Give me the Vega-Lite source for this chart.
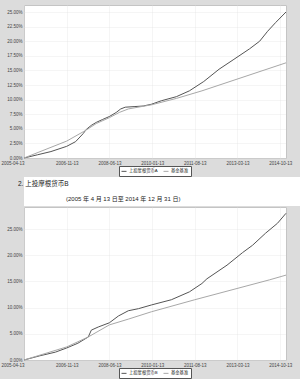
{
  "$schema": "https://vega.github.io/schema/vega-lite/v6.json",
  "background": "#dcdcdc",
  "padding": {"left": 0, "top": 4, "right": 0, "bottom": 0},
  "spacing": 0,
  "align": "none",
  "resolve": {"scale": {"color": "independent"}, "legend": {"color": "independent"}},
  "datasets": {
    "a": [
      {"date": "2005-04-13", "series": "上投摩根货币A", "value": 0},
      {"date": "2005-10-13", "series": "上投摩根货币A", "value": 0.55},
      {"date": "2006-04-13", "series": "上投摩根货币A", "value": 1.1},
      {"date": "2006-11-13", "series": "上投摩根货币A", "value": 2.0},
      {"date": "2007-03-13", "series": "上投摩根货币A", "value": 2.8},
      {"date": "2007-06-25", "series": "上投摩根货币A", "value": 4.2},
      {"date": "2007-08-05", "series": "上投摩根货币A", "value": 4.9},
      {"date": "2007-10-13", "series": "上投摩根货币A", "value": 5.6},
      {"date": "2007-12-18", "series": "上投摩根货币A", "value": 6.1},
      {"date": "2008-03-13", "series": "上投摩根货币A", "value": 6.6},
      {"date": "2008-06-12", "series": "上投摩根货币A", "value": 7.1},
      {"date": "2008-09-13", "series": "上投摩根货币A", "value": 7.8},
      {"date": "2008-11-13", "series": "上投摩根货币A", "value": 8.4},
      {"date": "2009-01-13", "series": "上投摩根货币A", "value": 8.7},
      {"date": "2009-05-13", "series": "上投摩根货币A", "value": 8.8},
      {"date": "2009-09-13", "series": "上投摩根货币A", "value": 8.9},
      {"date": "2010-01-02", "series": "上投摩根货币A", "value": 9.2},
      {"date": "2010-05-17", "series": "上投摩根货币A", "value": 9.8},
      {"date": "2010-12-07", "series": "上投摩根货币A", "value": 10.5},
      {"date": "2011-06-01", "series": "上投摩根货币A", "value": 11.5},
      {"date": "2011-12-13", "series": "上投摩根货币A", "value": 13.1},
      {"date": "2012-07-07", "series": "上投摩根货币A", "value": 15.2},
      {"date": "2013-01-13", "series": "上投摩根货币A", "value": 16.8},
      {"date": "2013-08-25", "series": "上投摩根货币A", "value": 18.7},
      {"date": "2014-01-08", "series": "上投摩根货币A", "value": 20.0},
      {"date": "2014-04-26", "series": "上投摩根货币A", "value": 21.7},
      {"date": "2014-08-13", "series": "上投摩根货币A", "value": 23.2},
      {"date": "2014-12-31", "series": "上投摩根货币A", "value": 25.0},
      {"date": "2005-04-13", "series": "基金基准", "value": 0},
      {"date": "2006-11-13", "series": "基金基准", "value": 2.9},
      {"date": "2007-06-25", "series": "基金基准", "value": 4.5},
      {"date": "2007-08-05", "series": "基金基准", "value": 4.8},
      {"date": "2007-12-18", "series": "基金基准", "value": 5.9},
      {"date": "2008-06-12", "series": "基金基准", "value": 6.9},
      {"date": "2008-10-25", "series": "基金基准", "value": 7.8},
      {"date": "2009-02-24", "series": "基金基准", "value": 8.4},
      {"date": "2009-08-19", "series": "基金基准", "value": 8.8},
      {"date": "2010-01-02", "series": "基金基准", "value": 9.1},
      {"date": "2010-12-07", "series": "基金基准", "value": 10.2},
      {"date": "2011-11-18", "series": "基金基准", "value": 11.5},
      {"date": "2014-12-31", "series": "基金基准", "value": 16.3}
    ],
    "b": [
      {"date": "2005-04-13", "series": "上投摩根货币B", "value": 0},
      {"date": "2005-11-13", "series": "上投摩根货币B", "value": 0.8},
      {"date": "2006-06-13", "series": "上投摩根货币B", "value": 1.5},
      {"date": "2006-11-13", "series": "上投摩根货币B", "value": 2.3},
      {"date": "2007-04-13", "series": "上投摩根货币B", "value": 3.2},
      {"date": "2007-09-01", "series": "上投摩根货币B", "value": 4.4},
      {"date": "2007-10-12", "series": "上投摩根货币B", "value": 5.7},
      {"date": "2008-01-14", "series": "上投摩根货币B", "value": 6.3},
      {"date": "2008-06-12", "series": "上投摩根货币B", "value": 7.1},
      {"date": "2008-10-13", "series": "上投摩根货币B", "value": 8.4},
      {"date": "2009-02-24", "series": "上投摩根货币B", "value": 9.4},
      {"date": "2009-07-13", "series": "上投摩根货币B", "value": 9.8},
      {"date": "2010-01-02", "series": "上投摩根货币B", "value": 10.5},
      {"date": "2010-09-30", "series": "上投摩根货币B", "value": 11.5},
      {"date": "2011-06-01", "series": "上投摩根货币B", "value": 13.0},
      {"date": "2011-11-18", "series": "上投摩根货币B", "value": 14.6},
      {"date": "2012-01-25", "series": "上投摩根货币B", "value": 15.5},
      {"date": "2012-10-23", "series": "上投摩根货币B", "value": 18.1},
      {"date": "2013-05-22", "series": "上投摩根货币B", "value": 20.5},
      {"date": "2013-10-04", "series": "上投摩根货币B", "value": 21.9},
      {"date": "2014-03-29", "series": "上投摩根货币B", "value": 24.2},
      {"date": "2014-09-07", "series": "上投摩根货币B", "value": 26.1},
      {"date": "2014-12-31", "series": "上投摩根货币B", "value": 28.0},
      {"date": "2005-04-13", "series": "基金基准", "value": 0},
      {"date": "2006-11-13", "series": "基金基准", "value": 2.5},
      {"date": "2007-09-01", "series": "基金基准", "value": 4.4},
      {"date": "2008-06-12", "series": "基金基准", "value": 6.7},
      {"date": "2009-02-24", "series": "基金基准", "value": 7.8},
      {"date": "2010-01-02", "series": "基金基准", "value": 9.2},
      {"date": "2011-08-13", "series": "基金基准", "value": 11.5},
      {"date": "2014-05-22", "series": "基金基准", "value": 15.3},
      {"date": "2014-12-31", "series": "基金基准", "value": 16.2}
    ]
  },
  "config": {
    "font": "Liberation Sans, Noto Sans CJK SC",
    "view": {"fill": "white", "stroke": "#c4c4c4", "strokeWidth": 1},
    "axis": {
      "labelFontSize": 4.5,
      "labelColor": "#444444",
      "ticks": false,
      "domain": false,
      "gridColor": "#dedede",
      "gridDash": [1, 1],
      "gridWidth": 0.6,
      "labelPadding": 2,
      "labelOverlap": false,
      "labelBound": false
    },
    "axisY": {"minExtent": 23, "maxExtent": 23},
    "legend": {"layout": {"bottom": {"anchor": "middle"}}},
    "line": {"strokeWidth": 1}
  },
  "vconcat": [
    {
      "width": 262,
      "height": 153,
      "data": {"name": "a"},
      "mark": {"type": "line"},
      "encoding": {
        "x": {
          "field": "date", "type": "temporal",
          "scale": {"type": "utc", "domain": [{"year": 2005, "month": 4, "date": 13, "utc": true}, {"year": 2014, "month": 12, "date": 31, "utc": true}]},
          "axis": {
            "title": null, "format": "%Y-%m-%d",
            "labelAlign": {"condition": {"test": "datum.index === 0", "value": "right"}, "value": "center"},
            "values": [
              {"year": 2005, "month": 4, "date": 13, "utc": true},
              {"year": 2006, "month": 11, "date": 13, "utc": true},
              {"year": 2008, "month": 6, "date": 13, "utc": true},
              {"year": 2010, "month": 1, "date": 13, "utc": true},
              {"year": 2011, "month": 8, "date": 13, "utc": true},
              {"year": 2013, "month": 3, "date": 13, "utc": true},
              {"year": 2014, "month": 10, "date": 13, "utc": true}
            ]
          }
        },
        "y": {
          "field": "value", "type": "quantitative",
          "scale": {"domain": [0, 26.2], "nice": false},
          "axis": {"title": null, "values": [0, 2.5, 5, 7.5, 10, 12.5, 15, 17.5, 20, 22.5, 25], "labelExpr": "format(datum.value, '.2f') + '%'"}
        },
        "color": {
          "field": "series", "type": "nominal",
          "scale": {"domain": ["上投摩根货币A", "基金基准"], "range": ["#555555", "#a8a8a8"]},
          "legend": {"title": null, "orient": "bottom", "direction": "horizontal", "fillColor": "white", "strokeColor": "#555555", "padding": 2, "offset": 1, "labelFontSize": 4.3, "labelColor": "#222222", "symbolType": "stroke", "symbolSize": 25, "symbolStrokeWidth": 1, "labelOffset": 2, "columnPadding": 3}
        }
      }
    },
    {
      "width": 277,
      "height": 29,
      "view": {"fill": "white", "stroke": null},
      "layer": [
        {
          "data": {"values": [{"t": "2. 上投摩根货币B"}]},
          "mark": {"type": "text", "align": "left", "dx": -144.5, "fontSize": 6.5, "color": "#222222"},
          "encoding": {"text": {"field": "t"}, "y": {"field": "t", "type": "nominal", "axis": null, "scale": {"domain": ["2. 上投摩根货币B", "(2005 年 4 月 13 日至 2014 年 12 月 31 日)"]}}}
        },
        {
          "data": {"values": [{"t": "(2005 年 4 月 13 日至 2014 年 12 月 31 日)"}]},
          "mark": {"type": "text", "align": "left", "dx": -96.5, "fontSize": 6, "color": "#222222"},
          "encoding": {"text": {"field": "t"}, "y": {"field": "t", "type": "nominal", "axis": null, "scale": {"domain": ["2. 上投摩根货币B", "(2005 年 4 月 13 日至 2014 年 12 月 31 日)"]}}}
        }
      ]
    },
    {
      "width": 262,
      "height": 153,
      "data": {"name": "b"},
      "mark": {"type": "line"},
      "encoding": {
        "x": {
          "field": "date", "type": "temporal",
          "scale": {"type": "utc", "domain": [{"year": 2005, "month": 4, "date": 13, "utc": true}, {"year": 2014, "month": 12, "date": 31, "utc": true}]},
          "axis": {
            "title": null, "format": "%Y-%m-%d",
            "labelAlign": {"condition": {"test": "datum.index === 0", "value": "right"}, "value": "center"},
            "values": [
              {"year": 2005, "month": 4, "date": 13, "utc": true},
              {"year": 2006, "month": 11, "date": 13, "utc": true},
              {"year": 2008, "month": 6, "date": 13, "utc": true},
              {"year": 2010, "month": 1, "date": 13, "utc": true},
              {"year": 2011, "month": 8, "date": 13, "utc": true},
              {"year": 2013, "month": 3, "date": 13, "utc": true},
              {"year": 2014, "month": 10, "date": 13, "utc": true}
            ]
          }
        },
        "y": {
          "field": "value", "type": "quantitative",
          "scale": {"domain": [0, 29.2], "nice": false},
          "axis": {"title": null, "values": [0, 5, 10, 15, 20, 25], "labelExpr": "format(datum.value, '.2f') + '%'"}
        },
        "color": {
          "field": "series", "type": "nominal",
          "scale": {"domain": ["上投摩根货币B", "基金基准"], "range": ["#555555", "#a8a8a8"]},
          "legend": {"title": null, "orient": "bottom", "direction": "horizontal", "fillColor": "white", "strokeColor": "#555555", "padding": 2, "offset": 1, "labelFontSize": 4.3, "labelColor": "#222222", "symbolType": "stroke", "symbolSize": 25, "symbolStrokeWidth": 1, "labelOffset": 2, "columnPadding": 3}
        }
      }
    }
  ]
}
